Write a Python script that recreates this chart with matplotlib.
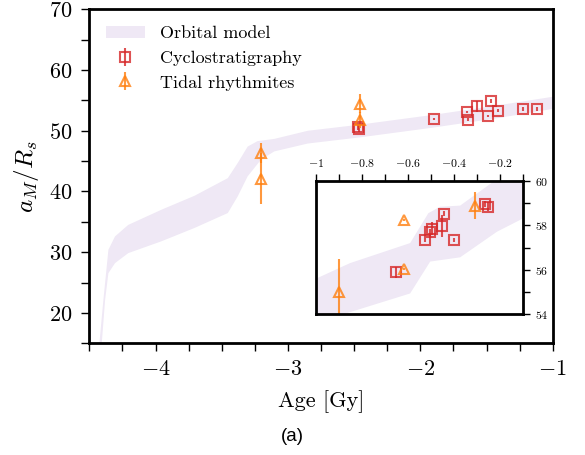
import numpy as np
import matplotlib
matplotlib.use('Agg')
import matplotlib.pyplot as plt
from matplotlib.ticker import MultipleLocator

plt.rcParams['font.family'] = 'cmr10'
plt.rcParams['mathtext.fontset'] = 'cm'
plt.rcParams['axes.formatter.use_mathtext'] = True

# orbital model band, main panel
band_up_x = [-4.424, -4.394, -4.356, -4.306, -4.206, -3.955, -3.705, -3.454, -3.379, -3.304,
             -3.229, -3.103, -2.85, -2.46, -1.91, -1.41, -1.0]
band_up_y = [15, 22.1, 30.4, 32.6, 34.5, 37.0, 39.3, 42.2, 44.7, 47.4,
             48.3, 48.66, 50.0, 51.0, 52.6, 54.2, 55.6]
band_lo_x = [-4.406, -4.381, -4.356, -4.306, -4.206, -3.955, -3.705, -3.454, -3.379, -3.304,
             -3.203, -3.103, -2.85, -2.46, -1.91, -1.41, -1.0]
band_lo_y = [15, 22.1, 26.55, 28.2, 29.85, 31.8, 34.0, 36.45, 39.2, 42.5,
             45.25, 46.6, 47.9, 48.9, 50.5, 52.1, 53.6]

# cyclostratigraphy, main panel
cyc_x = [-2.47, -2.46, -1.90, -1.65, -1.642, -1.569, -1.49, -1.466, -1.41, -1.228, -1.118]
cyc_y = [50.58, 50.36, 51.96, 53.12, 51.85, 54.05, 52.4, 54.87, 53.33, 53.6, 53.6]
cyc_err = [0.4, 0.5, 0.2, 0.2, 0.2, 0.9, 0.2, 0.3, 0.2, 0.3, 0.3]

# tidal rhythmites, main panel
tid_x = [-3.2, -3.2, -2.455, -2.455]
tid_y = [46.35, 42.06, 54.49, 51.73]
tid_err = [1.65, 4.2, 1.5, 1.3]

# inset band
in_up_x = [-1.0, -0.852, -0.591, -0.512, -0.461, -0.374, -0.229, -0.1]
in_up_y = [55.6, 56.3, 57.2, 58.54, 58.83, 58.88, 59.96, 60.5]
in_lo_x = [-1.0, -0.883, -0.591, -0.504, -0.374, -0.214, -0.1]
in_lo_y = [53.5, 54.0, 54.94, 56.37, 56.56, 57.71, 58.31]

# inset points
in_cyc_x = [-0.653, -0.526, -0.504, -0.494, -0.454, -0.443, -0.40, -0.268, -0.255]
in_cyc_y = [55.89, 57.34, 57.68, 57.85, 57.98, 58.52, 57.34, 58.95, 58.83]
in_cyc_err = [0.25, 0.1, 0.15, 0.3, 0.5, 0.1, 0.1, 0.15, 0.2]
in_tid_x = [-0.90, -0.619, -0.619, -0.309]
in_tid_y = [55.0, 58.24, 56.04, 58.88]
in_tid_err = [1.5, 0.05, 0.05, 0.6]

band_col = '#9467bd'
red = '#d62728'
orange = '#ff7f0e'

fig = plt.figure(figsize=(5.85, 4.55), dpi=100)
ax = fig.add_axes([0.1527, 0.2455, 0.7921, 0.734])

ax.fill(np.concatenate([band_up_x, band_lo_x[::-1]]), np.concatenate([band_up_y, band_lo_y[::-1]]),
        color=band_col, alpha=0.15, lw=0, label='Orbital model')
ax.errorbar(cyc_x, cyc_y, yerr=cyc_err, fmt='s', mfc='none', mec=red, ecolor=red, color=red,
            ms=7, mew=1.5, alpha=0.8, label='Cyclostratigraphy')
ax.errorbar(tid_x, tid_y, yerr=tid_err, fmt='^', mfc='none', mec=orange, ecolor=orange, color=orange,
            ms=7, mew=1.5, alpha=0.8, label='Tidal rhythmites')

ax.set_xlim(-4.5, -1)
ax.set_ylim(15, 70)
ax.xaxis.set_major_locator(MultipleLocator(1))
ax.xaxis.set_minor_locator(MultipleLocator(0.25))
ax.yaxis.set_major_locator(MultipleLocator(10))
ax.yaxis.set_minor_locator(MultipleLocator(5))
ax.tick_params(which='both', direction='out', length=6, width=1, labelsize=16, pad=6)
for s in ax.spines.values():
    s.set_linewidth(2)
ax.set_xlabel('Age [Gy]', fontsize=16, labelpad=8)
ax.set_ylabel(r'$a_M/R_s$', fontsize=18, labelpad=6)
ax.legend(loc='upper left', frameon=False, fontsize=13, handlelength=2.2)

ins = fig.add_axes([0.540, 0.309, 0.3545, 0.294])
ins.fill(np.concatenate([in_up_x, in_lo_x[::-1]]), np.concatenate([in_up_y, in_lo_y[::-1]]),
         color=band_col, alpha=0.15, lw=0)
ins.errorbar(in_cyc_x, in_cyc_y, yerr=in_cyc_err, fmt='s', mfc='none', mec=red, ecolor=red, color=red,
             ms=7, mew=1.5, alpha=0.8)
ins.errorbar(in_tid_x, in_tid_y, yerr=in_tid_err, fmt='^', mfc='none', mec=orange, ecolor=orange,
             color=orange, ms=7, mew=1.5, alpha=0.8)
ins.set_xlim(-1, -0.1)
ins.set_ylim(54, 60)
ins.xaxis.tick_top()
ins.yaxis.tick_right()
ins.xaxis.set_minor_locator(MultipleLocator(0.1))
ins.yaxis.set_major_locator(MultipleLocator(2))
ins.yaxis.set_minor_locator(MultipleLocator(1))
ins.tick_params(which='both', direction='out', length=5, width=1, labelsize=8.5)
ins.set_xticks([-1, -0.8, -0.6, -0.4, -0.2])
ins.set_xticklabels([r'$-1$', r'$-0.8$', r'$-0.6$', r'$-0.4$', r'$-0.2$'])
for s in ins.spines.values():
    s.set_linewidth(2)

fig.text(0.5, 0.04, '(a)', ha='center', va='center', fontsize=13.5, family='Liberation Sans')

fig.savefig('out.png', dpi=100)
